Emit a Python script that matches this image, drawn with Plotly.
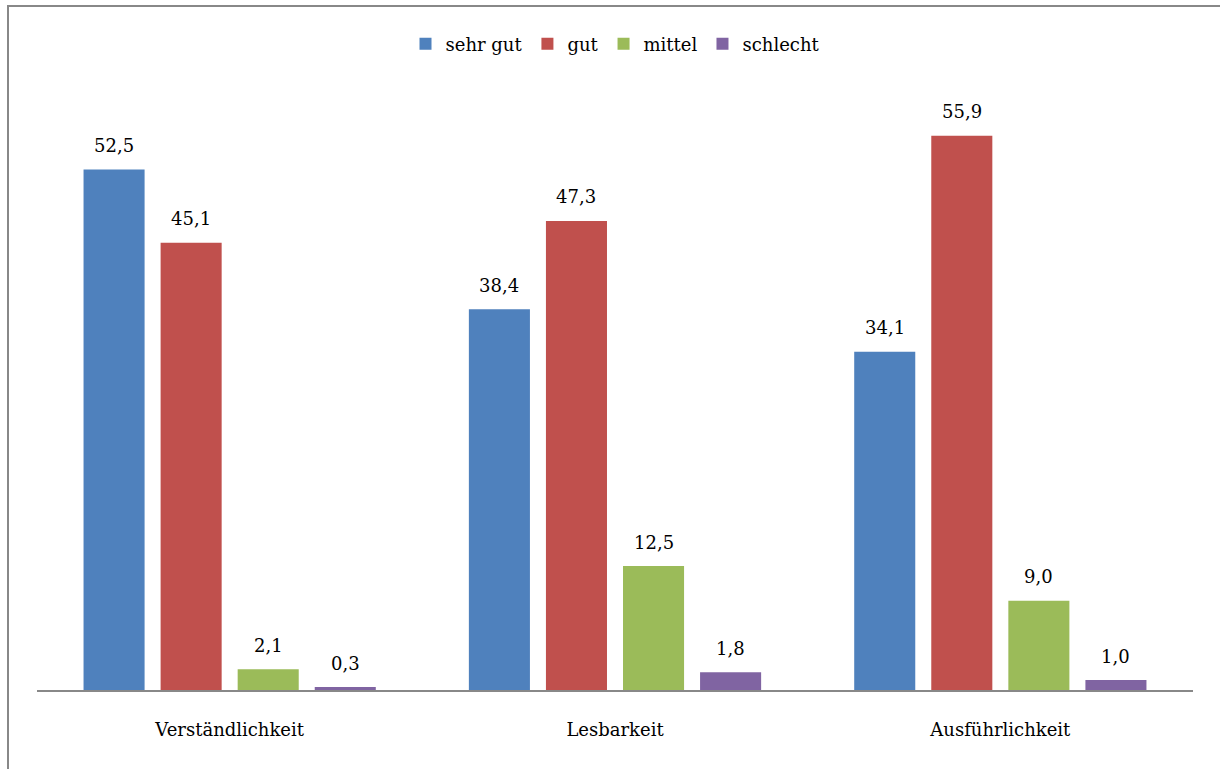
import plotly.graph_objects as go

categories = ["Verständlichkeit", "Lesbarkeit", "Ausführlichkeit"]
series_names = ["sehr gut", "gut", "mittel", "schlecht"]
sehr_gut = [52.5, 38.4, 34.1]
gut = [45.1, 47.3, 55.9]
mittel = [2.1, 12.5, 9.0]
schlecht = [0.3, 1.8, 1.0]

colors = ["#4F81BD", "#C0504D", "#9BBB59", "#8064A2"]
series = [sehr_gut, gut, mittel, schlecht]

FONT = "DejaVu Serif"
FS = 18

fig = go.Figure()
for name, vals, col in zip(series_names, series, colors):
    fig.add_trace(go.Bar(name=name, x=categories, y=vals, marker_color=col,
                         marker_line_width=0))

# value labels above each bar, shifted to the bar's slot within the group
W, H = 1220, 769
ml, mr, mt, mb = 37, 27, 95, 79
plot_w = W - ml - mr
cat_w = plot_w / len(categories)
bargap = 0.2
slot = cat_w * (1 - bargap) / len(series)
for i, vals in enumerate(series):
    dx = (i - (len(series) - 1) / 2) * slot
    for c, v in zip(categories, vals):
        fig.add_annotation(x=c, y=v, text=f"{v:.1f}".replace(".", ","),
                           showarrow=False, xshift=dx, yshift=24,
                           font=dict(family=FONT, size=FS, color="black"))

fig.add_shape(type="rect", xref="paper", yref="paper",
              x0=(8 - ml) / plot_w, x1=1.2, y0=-0.3, y1=(H - mb - 6) / (H - mt - mb),
              line=dict(color="#888888", width=2), fillcolor="rgba(0,0,0,0)",
              layer="below")

fig.update_layout(
    width=W, height=H,
    margin=dict(l=ml, r=mr, t=mt, b=mb),
    paper_bgcolor="white", plot_bgcolor="white",
    barmode="group", bargap=bargap, bargroupgap=16 / 77,
    font=dict(family=FONT, size=FS, color="black"),
    showlegend=True,
    legend=dict(orientation="h", x=0.5, xanchor="center",
                y=(H - mb - 44) / (H - mt - mb), yanchor="middle",
                font=dict(family=FONT, size=FS, color="black"), itemwidth=30,
                tracegroupgap=0, traceorder="normal"),
    xaxis=dict(showline=True, linecolor="#888888", linewidth=2,
               ticks="", ticklabelstandoff=22,
               tickfont=dict(family=FONT, size=FS, color="black")),
    yaxis=dict(range=[0, 60], visible=False, showgrid=False, zeroline=False),
)

fig.write_html("out.html")
